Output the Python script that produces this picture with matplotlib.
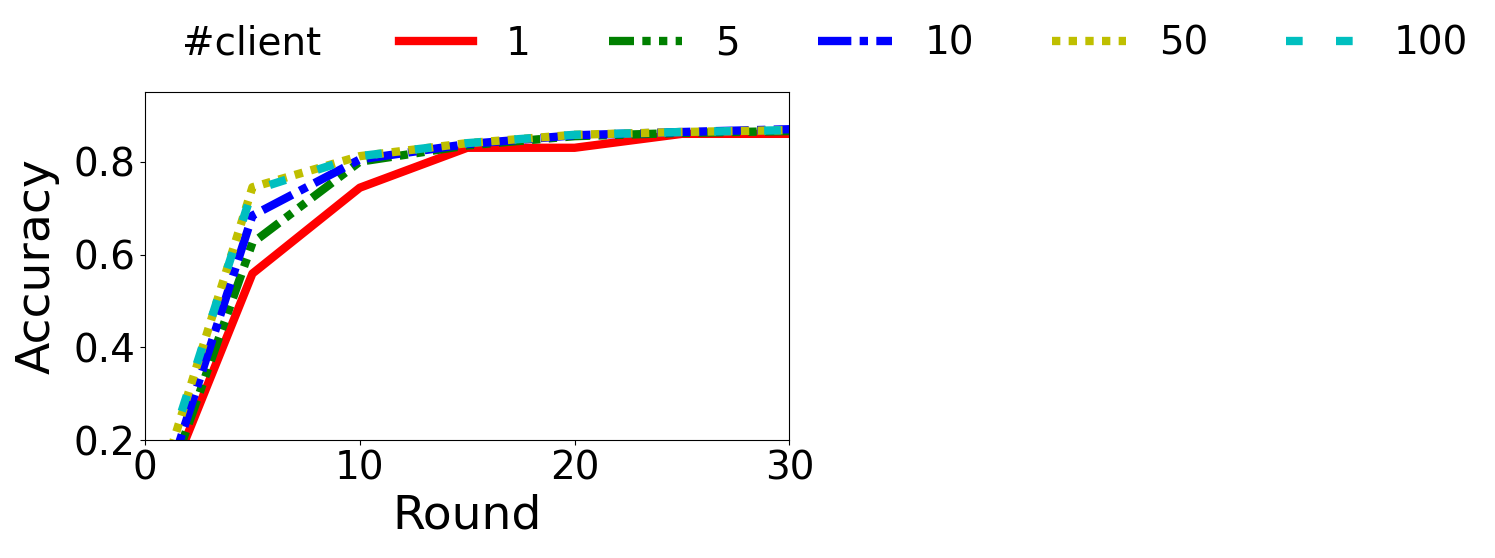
import matplotlib
matplotlib.use("Agg")
import matplotlib.pyplot as plt
from matplotlib.lines import Line2D

rounds = [1, 5, 10, 15, 20, 25, 30]
clients = ["1", "5", "10", "50", "100"]
acc_1 = [0.10, 0.559, 0.744, 0.830, 0.830, 0.860, 0.860]
acc_5 = [0.10, 0.625, 0.800, 0.835, 0.855, 0.862, 0.866]
acc_10 = [0.11, 0.684, 0.805, 0.838, 0.857, 0.864, 0.870]
acc_50 = [0.15, 0.745, 0.812, 0.840, 0.858, 0.864, 0.868]
acc_100 = [0.16, 0.738, 0.812, 0.840, 0.858, 0.864, 0.868]
series = [acc_1, acc_5, acc_10, acc_50, acc_100]
colors = ["r", "g", "b", "y", "c"]
styles = ["-", (0, (3, 1, 1, 1, 1, 1)), (0, (4, 1, 1, 1)), (0, (1, 1)), (0, (2, 4))]

fig = plt.figure(figsize=(14.95, 5.58), dpi=100)
ax = fig.add_axes([0.097, 0.211, 0.431, 0.624])
handles = [Line2D([], [], color="none", label="#client")]
for lab, ys, c, ls in zip(clients, series, colors, styles):
    h, = ax.plot(rounds, ys, color=c, linestyle=ls, linewidth=6, label=lab)
    handles.append(h)

ax.set_xlim(0, 30)
ax.set_ylim(0.2, 0.95)
ax.set_xticks([0, 10, 20, 30])
ax.set_yticks([0.2, 0.4, 0.6, 0.8])
ax.tick_params(labelsize=28)
ax.set_xlabel("Round", fontsize=34, labelpad=4)
ax.set_ylabel("Accuracy", fontsize=34, labelpad=10)

fig.legend(handles=handles, loc="center", bbox_to_anchor=(0.516, 0.922), ncol=6,
           frameon=False, fontsize=28, handlelength=1.9, handletextpad=0.85,
           columnspacing=2.0)

fig.savefig("out.png", dpi=100)
